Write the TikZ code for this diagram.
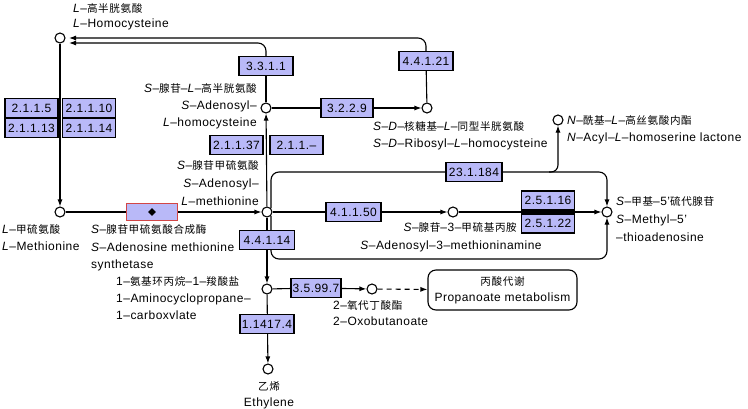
\documentclass[tikz,border=0pt]{standalone}
\usepackage{fontspec}
\setmainfont{Liberation Sans}[LetterSpace=4]
\newfontfamily\zhf{Noto Sans CJK SC}[Scale=0.88,LetterSpace=6]
\usetikzlibrary{arrows.meta,shapes.geometric,calc,backgrounds}
\newcommand{\zh}[1]{{\zhf #1}}
\newcommand{\itl}[1]{\textit{#1}}
\definecolor{keggblue}{RGB}{185,185,248}
\definecolor{keggred}{RGB}{210,70,70}
\begin{document}
\begin{tikzpicture}[x=1pt,y=-1pt,
  every node/.style={inner sep=0pt},
  lbl/.style={font=\fontsize{12}{14}\selectfont, text height=8.6pt, text depth=0pt},
  enz/.style={draw=black, line width=1.1pt, fill=keggblue, minimum width=53pt, minimum height=19pt,
              font=\fontsize{12}{14}\selectfont, text height=8.6pt, text depth=0pt},
  cpd/.style={circle, draw=black, line width=1.1pt, fill=white, minimum size=10pt},
  conn/.style={line width=1.1pt, draw=black},
  arr/.style={conn, -{Latex[length=7pt,width=5pt]}},
]
\useasboundingbox (0,0) rectangle (748,408);

% compounds
\node[cpd] (hcy) at (60,38) {};
\node[cpd] (sah) at (266,108) {};
\node[cpd] (srh) at (427,108) {};
\node[cpd] (ahl) at (558,120) {};
\node[cpd] (met) at (60,212) {};
\node[cpd] (sam) at (267,212) {};
\node[cpd] (dsam) at (453,212) {};
\node[cpd] (mta) at (607,212) {};
\node[cpd] (acc) at (267,289) {};
\node[cpd] (oxo) at (372,289) {};
\node[cpd] (eth) at (268,369) {};

% enzymes
\node[enz] (e2115) at (31.5,108) {2.1.1.5};
\node[enz] (e21110) at (89,108) {2.1.1.10};
\node[enz] (e21113) at (31.5,128) {2.1.1.13};
\node[enz] (e21114) at (89,128) {2.1.1.14};
\node[enz, minimum width=54pt] (e3311) at (266,66) {3.3.1.1};
\node[enz, minimum width=54pt] (e44121) at (426,61) {4.4.1.21};
\node[enz, minimum width=52pt] (e3229) at (347,108) {3.2.2.9};
\node[enz] (e21137) at (236.5,145) {2.1.1.37};
\node[enz] (e211x) at (296.5,145) {2.1.1.–};
\node[enz, minimum width=56pt] (e231184) at (474,172) {23.1.184};
\node[enz, minimum width=55pt] (e41150) at (353.5,212) {4.1.1.50};
\node[enz] (e25116) at (548,200.5) {2.5.1.16};
\node[enz] (e25122) at (548,223.5) {2.5.1.22};
\node[enz, minimum width=55pt] (e44114) at (267,240) {4.4.1.14};
\node[enz, minimum width=50pt] (e35997) at (316,288) {3.5.99.7};
\node[enz, minimum width=54pt] (e114174) at (267,324) {1.1417.4};
\node[draw=keggred, line width=1.1pt, fill=keggblue, minimum width=51pt, minimum height=17pt] (sams) at (152,212) {};
\node[diamond, fill=black, minimum size=8pt] (samsd) at (sams.center) {};
\node[draw=black, line width=1.1pt, rounded corners=8pt, minimum width=149pt, minimum height=40pt,
      align=center, font=\fontsize{12}{16}\selectfont] (prop) at (502.5,290) {\zh{丙酸代谢}\\Propanoate metabolism};

% connectors
\begin{scope}[on background layer]
\fill[white] (0,0) rectangle (748,408);
\draw[arr] (hcy) -- (met);
\draw[conn] (met) -- (sams);
\draw[arr] (sams) -- (sam);
\draw[arr] (sam) -- (sah);
\draw[conn] (sah) -- (e3229);
\draw[arr] (e3229) -- (srh);
\draw[conn] (sah) -- (e3311);
\coordinate (hcyin) at (69,43);
\draw[arr, rounded corners=8pt] (e3311.north) |- (hcyin);
\draw[conn] (srh) -- (e44121);
\coordinate (hcyin2) at (69,38);
\draw[arr, rounded corners=8pt] (e44121.north) |- (hcyin2);
\draw[conn] (sam) -- (e41150);
\draw[arr] (e41150) -- (dsam);
\draw[arr] (dsam) -- (mta);
\coordinate (s1) at (271,208);
\draw[conn, rounded corners=8pt] (s1) |- (e231184.west);
\draw[arr, rounded corners=8pt] (e231184.east) -| (mta);
\coordinate (br) at (549,172);
\draw[arr, rounded corners=7pt] (br) -| (ahl);
\coordinate (s2) at (271,216);
\coordinate (c2) at (607,259);
\draw[arr, rounded corners=8pt] (s2) |- (c2) -- (mta);
\draw[arr] (sam) -- (acc);
\draw[conn] (acc) -- (e35997);
\draw[arr] (e35997) -- (oxo);
\draw[arr] (acc) -- (eth);
\draw[arr, dash pattern=on 5pt off 4pt] (oxo) -- (prop);
\end{scope}

% labels
\node[lbl, anchor=west] (thcy1) at (73,8) {\itl{L}–\zh{高半胱氨酸}};
\node[lbl, anchor=west] (thcy2) at (73,23) {\itl{L}–Homocysteine};
\node[lbl, anchor=east] (tsah1) at (257,88) {\itl{S}–\zh{腺苷}–\itl{L}–\zh{高半胱氨酸}};
\node[lbl, anchor=east] (tsah2) at (257,105) {\itl{S}–Adenosyl–};
\node[lbl, anchor=east] (tsah3) at (257,122) {\itl{L}–homocysteine};
\node[lbl, anchor=west] (tsrh1) at (373,126) {\itl{S}–\itl{D}–\zh{核糖基}–\itl{L}–\zh{同型半胱氨酸}};
\node[lbl, anchor=west] (tsrh2) at (373,143) {\itl{S}–\itl{D}–Ribosyl–\itl{L}–homocysteine};
\node[lbl, anchor=west] (tahl1) at (567,120) {\itl{N}–\zh{酰基}–\itl{L}–\zh{高丝氨酸内酯}};
\node[lbl, anchor=west] (tahl2) at (567,137) {\itl{N}–Acyl–\itl{L}–homoserine lactone};
\node[lbl, anchor=east] (tsam1) at (259,165) {\itl{S}–\zh{腺苷甲硫氨酸}};
\node[lbl, anchor=east] (tsam2) at (259,183) {\itl{S}–Adenosyl–};
\node[lbl, anchor=east] (tsam3) at (259,201) {\itl{L}–methionine};
\node[lbl, anchor=west] (tmet1) at (2,229) {\itl{L}–\zh{甲硫氨酸}};
\node[lbl, anchor=west] (tmet2) at (2,246) {\itl{L}–Methionine};
\node[lbl, anchor=west] (tsams1) at (91,229) {\itl{S}–\zh{腺苷甲硫氨酸合成酶}};
\node[lbl, anchor=west] (tsams2) at (91,247) {\itl{S}–Adenosine methionine};
\node[lbl, anchor=west] (tsams3) at (91,264) {synthetase};
\node[lbl, anchor=east] (tdsam1) at (517,227) {\itl{S}–\zh{腺苷}–3–\zh{甲硫基丙胺}};
\node[lbl] (tdsam2) at (451,245) {\itl{S}–Adenosyl–3–methioninamine};
\node[lbl, anchor=west] (tmta1) at (616,201) {\itl{S}–\zh{甲基}–5'\zh{硫代腺苷}};
\node[lbl, anchor=west] (tmta2) at (616,219) {\itl{S}–Methyl–5'};
\node[lbl, anchor=west] (tmta3) at (616,237) {–thioadenosine};
\node[lbl, anchor=west] (tacc1) at (116,281) {1–\zh{氨基环丙烷}–1–\zh{羧酸盐}};
\node[lbl, anchor=west] (tacc2) at (116,298) {1–Aminocyclopropane–};
\node[lbl, anchor=west] (tacc3) at (116,315) {1–carboxvlate};
\node[lbl, anchor=west] (toxo1) at (333,305) {2–\zh{氧代丁酸酯}};
\node[lbl, anchor=west] (toxo2) at (333,321) {2–Oxobutanoate};
\node[lbl] (teth1) at (269,386) {\zh{乙烯}};
\node[lbl] (teth2) at (269,402) {Ethylene};
\end{tikzpicture}
\end{document}
